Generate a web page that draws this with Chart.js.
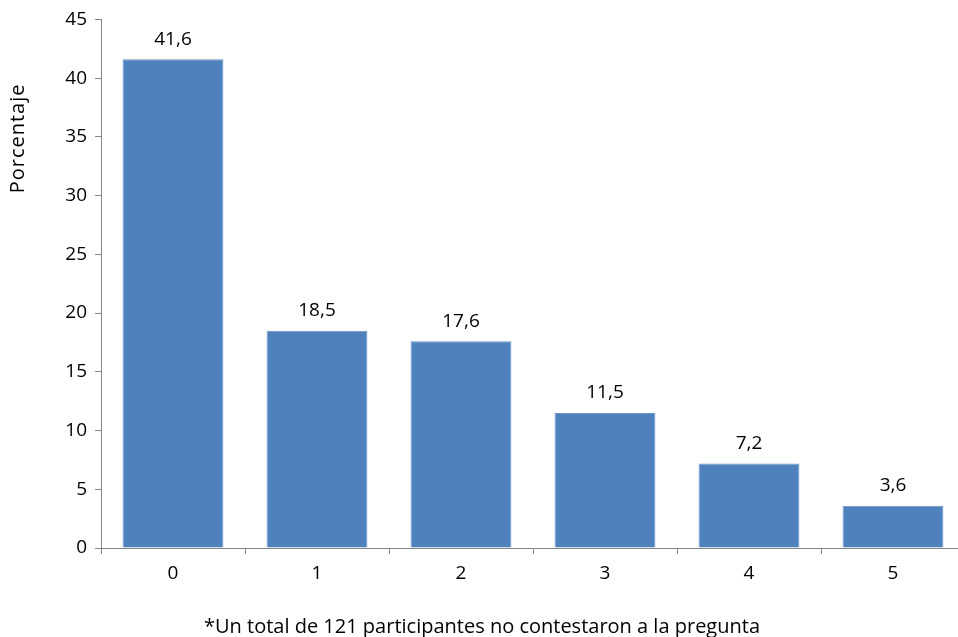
<!DOCTYPE html>
<html>
<head>
<meta charset="utf-8">
<script src="https://cdn.jsdelivr.net/npm/chart.js@4/dist/chart.umd.min.js"></script>
<style>
  html, body { margin: 0; padding: 0; background: #fff; overflow: hidden; }
  #wrap { width: 975px; height: 637px; }
</style>
</head>
<body>
<div id="wrap"><canvas id="c" width="975" height="637"></canvas></div>
<script>
const categories = ['0', '1', '2', '3', '4', '5'];
const percentages = [41.6, 18.5, 17.6, 11.5, 7.2, 3.6];
const yTicks = [0, 5, 10, 15, 20, 25, 30, 35, 40, 45];
const yTitle = 'Porcentaje';
const footnote = '*Un total de 121 participantes no contestaron a la pregunta';

const FONT = "'Open Sans', sans-serif";
const SIZE = 19;
const AXIS = '#868686';

const fmt = v => String(v).replace('.', ',');

// value labels above bars, axis title and footnote
const extras = {
  id: 'extras',
  afterDatasetsDraw(chart) {
    const ctx = chart.ctx;
    const meta = chart.getDatasetMeta(0);
    const a = chart.chartArea;
    ctx.save();
    ctx.fillStyle = '#000';
    ctx.font = SIZE + 'px ' + FONT;
    ctx.textAlign = 'center';
    ctx.textBaseline = 'middle';
    meta.data.forEach((bar, i) => {
      ctx.fillText(fmt(percentages[i]), bar.x, bar.y - 20);
    });
    ctx.font = '20px ' + FONT;
    ctx.fillText(footnote, 482, 627);
    ctx.translate(18, a.top + 119);
    ctx.rotate(-Math.PI / 2);
    ctx.letterSpacing = '1px';
    ctx.fillText(yTitle, 0, 0);
    ctx.restore();
  }
};

new Chart(document.getElementById('c'), {
  type: 'bar',
  data: {
    labels: categories,
    datasets: [{
      data: percentages,
      backgroundColor: '#4F81BD',
      borderColor: '#6A95CB',
      borderWidth: 1,
      barPercentage: 0.7,
      categoryPercentage: 1
    }]
  },
  options: {
    responsive: false,
    animation: false,
    layout: { padding: { left: 0, top: 19, right: 10, bottom: 0 } },
    plugins: { legend: { display: false }, tooltip: { enabled: false } },
    scales: {
      x: {
        offset: true,
        grid: { offset: true, drawOnChartArea: false, tickLength: 6, color: AXIS },
        border: { color: AXIS, width: 1 },
        ticks: { color: '#000', font: { family: FONT, size: SIZE }, padding: 8 },
        afterFit: s => { s.height = 89; }
      },
      y: {
        min: 0,
        max: 45,
        afterBuildTicks: s => { s.ticks = yTicks.map(v => ({ value: v })); },
        grid: { drawOnChartArea: false, tickLength: 6, color: AXIS },
        border: { color: AXIS, width: 1 },
        ticks: { color: '#000', font: { family: FONT, size: SIZE }, padding: 8 },
        afterFit: s => { s.width = 101; }
      }
    }
  },
  plugins: [extras]
});
</script>
</body>
</html>
